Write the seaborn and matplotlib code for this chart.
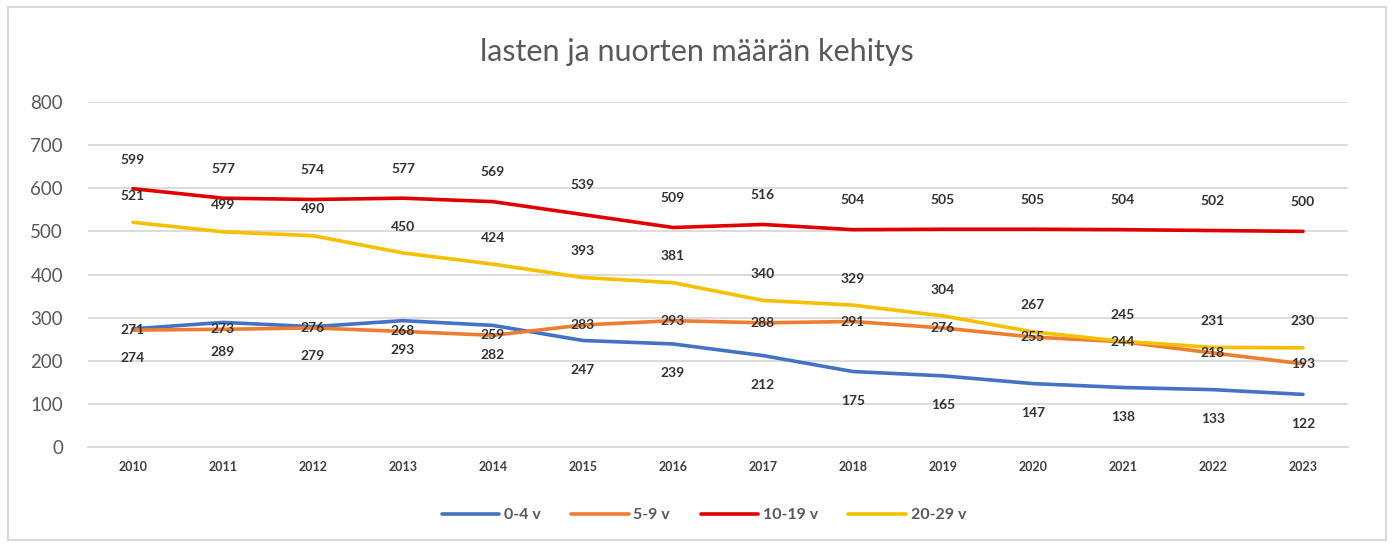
import pandas as pd
import matplotlib
matplotlib.use("Agg")
import matplotlib.pyplot as plt
import seaborn as sns
from matplotlib.patches import Rectangle

# chart data
years = [2010, 2011, 2012, 2013, 2014, 2015, 2016, 2017, 2018, 2019, 2020, 2021, 2022, 2023]
age_0_4 = [274, 289, 279, 293, 282, 247, 239, 212, 175, 165, 147, 138, 133, 122]
age_5_9 = [271, 273, 276, 268, 259, 283, 293, 288, 291, 276, 255, 244, 218, 193]
age_10_19 = [599, 577, 574, 577, 569, 539, 509, 516, 504, 505, 505, 504, 502, 500]
age_20_29 = [521, 499, 490, 450, 424, 393, 381, 340, 329, 304, 267, 245, 231, 230]
series_names = ["0-4 v", "5-9 v", "10-19 v", "20-29 v"]
title = "lasten ja nuorten määrän kehitys"

colors = ["#4472C4", "#ED7D31", "#E00000", "#F5C000"]
# vertical label offset (points) per series
label_offsets = [-21, 0, 21, 19]

sns.set_theme(style="white")
plt.rcParams["font.family"] = ["Lato", "DejaVu Sans"]

# long-form table for seaborn
rows = []
for name, vals in zip(series_names, [age_0_4, age_5_9, age_10_19, age_20_29]):
    for i, v in enumerate(vals):
        rows.append({"pos": i, "year": years[i], "value": v, "series": name})
df = pd.DataFrame(rows)

fig = plt.figure(figsize=(13.94, 5.47), dpi=100)
ax = fig.add_axes([0.0631, 0.1828, 0.9039, 0.6307])

sns.lineplot(data=df, x="pos", y="value", hue="series", hue_order=series_names,
             palette=colors, linewidth=2.6, ax=ax, legend=True)

# data labels
for name, off in zip(series_names, label_offsets):
    sub = df[df.series == name]
    for _, r in sub.iterrows():
        ax.annotate(str(r.value), (r.pos, r.value), xytext=(0, off),
                    textcoords="offset points", ha="center", va="center",
                    fontsize=10, fontweight="bold", color="#333333")

ax.set_xlim(-0.5, len(years) - 0.5)
ax.set_ylim(0, 800)
ax.set_xticks(range(len(years)))
ax.set_xticklabels([str(y) for y in years], fontsize=9, fontweight="bold", color="#404040")
ax.set_yticks(range(0, 801, 100))
ax.tick_params(axis="y", labelsize=13.5, labelcolor="#595959", length=0, pad=18)
ax.tick_params(axis="x", length=0, pad=10)
ax.yaxis.grid(True, color="#D9D9D9", linewidth=1.3)
ax.set_axisbelow(True)
for s in ["top", "right", "left"]:
    ax.spines[s].set_visible(False)
ax.spines["bottom"].set_color("#D9D9D9")
ax.spines["bottom"].set_linewidth(1.3)
ax.set_xlabel("")
ax.set_ylabel("")

fig.text(0.5, 0.905, title, ha="center", va="center", fontsize=22,
         fontweight="normal", color="#595959")

handles, labels = ax.get_legend_handles_labels()
ax.legend(handles, labels, loc="center", bbox_to_anchor=(0.505, 0.058),
          bbox_transform=fig.transFigure, ncol=4, frameon=False,
          handlelength=3.6, columnspacing=1.9, handletextpad=0.3,
          prop={"size": 11.5, "weight": "bold"}, labelcolor="#595959")

fig.patches.append(Rectangle((0.006, 0.012), 0.988, 0.975, transform=fig.transFigure,
                             fill=False, edgecolor="#D9D9D9", linewidth=1.5))

fig.savefig("out.png", dpi=100)
